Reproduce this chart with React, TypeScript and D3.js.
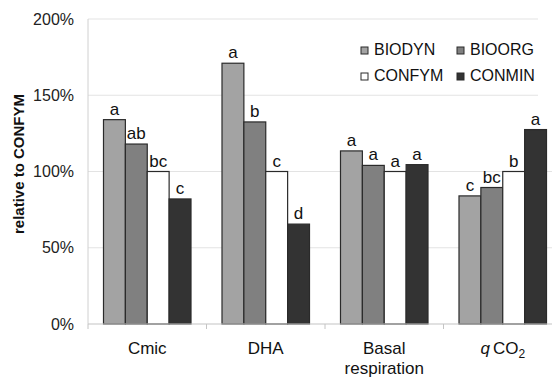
import React from "react";
import * as d3 from "d3";

const categories = ["Cmic", "DHA", "Basal respiration", "qCO2"];
const series = ["BIODYN", "BIOORG", "CONFYM", "CONMIN"];
const biodyn = [134, 171, 113.5, 84];
const bioorg = [118, 132.5, 104, 89.5];
const confym = [100, 100, 100, 100];
const conmin = [82, 65.5, 104.5, 127.5];
const lettersBiodyn = ["a", "a", "a", "c"];
const lettersBioorg = ["ab", "b", "a", "bc"];
const lettersConfym = ["bc", "c", "a", "b"];
const lettersConmin = ["c", "d", "a", "a"];
const yTicks = [0, 50, 100, 150, 200];
const colors = ["#a3a3a3", "#808080", "#ffffff", "#333333"];

const values = [biodyn, bioorg, confym, conmin];
const letters = [lettersBiodyn, lettersBioorg, lettersConfym, lettersConmin];

const W = 552;
const H = 378;
const FONT = "'Liberation Sans', Arial, Helvetica, sans-serif";

export default function App() {
  const y = d3.scaleLinear().domain([0, 200]).range([324, 19]);
  const x0 = d3.scaleBand<string>().domain(categories).range([88, 562]).padding(0);
  const bw = x0.bandwidth();
  const x1 = d3.scaleBand<string>().domain(series).range([15.5, bw - 15.5]).padding(0);

  return (
    <svg
      width={W}
      height={H}
      style={{ position: "absolute", left: 0, top: 0, background: "#fff", display: "block" }}
      fontFamily={FONT}
    >
      <rect x={0} y={0} width={W} height={H} fill="#fff" />
      {/* gridlines */}
      {yTicks.slice(1).map((t) => (
        <line
          key={t}
          x1={88}
          x2={t >= 150 ? 538 : W}
          y1={y(t)}
          y2={y(t)}
          stroke="#e3e3e3"
          strokeWidth={1.2}
        />
      ))}
      {/* left axis */}
      <line x1={88} x2={88} y1={y(200)} y2={y(0)} stroke="#d0d0d0" strokeWidth={1} />
      {/* y tick labels */}
      {yTicks.map((t) => (
        <text
          key={t}
          x={74}
          y={y(t) + 5.5}
          textAnchor="end"
          fontSize={16}
          fill="#222"
        >
          {t + "%"}
        </text>
      ))}
      {/* y title */}
      <text
        transform={`translate(24,164) rotate(-90)`}
        textAnchor="middle"
        fontSize={15}
        fontWeight="bold"
        fill="#111"
      >
        relative to CONFYM
      </text>
      {/* bars */}
      {categories.map((c, ci) => (
        <g key={c} transform={`translate(${x0(c)},0)`}>
          {series.map((s, si) => {
            const v = values[si][ci];
            const bx = x1(s)!;
            const w = x1.bandwidth();
            return (
              <g key={s}>
                <rect
                  x={bx}
                  y={y(v)}
                  width={w}
                  height={y(0) - y(v)}
                  fill={colors[si]}
                  stroke="#2a2a2a"
                  strokeWidth={1.2}
                />
                <text
                  x={bx + w / 2}
                  y={y(v) - 5}
                  textAnchor="middle"
                  fontSize={17}
                  fill="#111"
                >
                  {letters[si][ci]}
                </text>
              </g>
            );
          })}
        </g>
      ))}
      {/* baseline */}
      <line x1={88} x2={W} y1={y(0)} y2={y(0)} stroke="#c4c4c4" strokeWidth={1.2} />
      {categories.map((c) => (
        <line
          key={c}
          x1={x0(c)!}
          x2={x0(c)!}
          y1={y(0)}
          y2={y(0) + 5}
          stroke="#c4c4c4"
          strokeWidth={1}
        />
      ))}
      {/* category labels */}
      {categories.map((c) => {
        const cx = x0(c)! + bw / 2;
        if (c === "qCO2") {
          return (
            <text key={c} x={cx} y={354} textAnchor="middle" fontSize={17} fill="#111">
              <tspan fontStyle="italic">q</tspan>
              <tspan dx={3}>CO</tspan>
              <tspan fontSize={12} dy={4}>2</tspan>
            </text>
          );
        }
        const parts = c.split(" ");
        return (
          <text key={c} x={cx} y={354} textAnchor="middle" fontSize={17} fill="#111">
            {parts.map((p, i) => (
              <tspan key={i} x={cx} dy={i === 0 ? 0 : 20}>
                {p}
              </tspan>
            ))}
          </text>
        );
      })}
      {/* legend */}
      {series.map((s, i) => {
        const col = i % 2;
        const row = Math.floor(i / 2);
        const lx = col === 0 ? 361 : 457;
        const ly = row === 0 ? 55 : 81;
        return (
          <g key={s}>
            <rect
              x={lx}
              y={ly - 8}
              width={7}
              height={7}
              fill={colors[i]}
              stroke="#2a2a2a"
              strokeWidth={1}
            />
            <text x={lx + 13} y={ly} fontSize={16} fill="#111">
              {s}
            </text>
          </g>
        );
      })}
    </svg>
  );
}
